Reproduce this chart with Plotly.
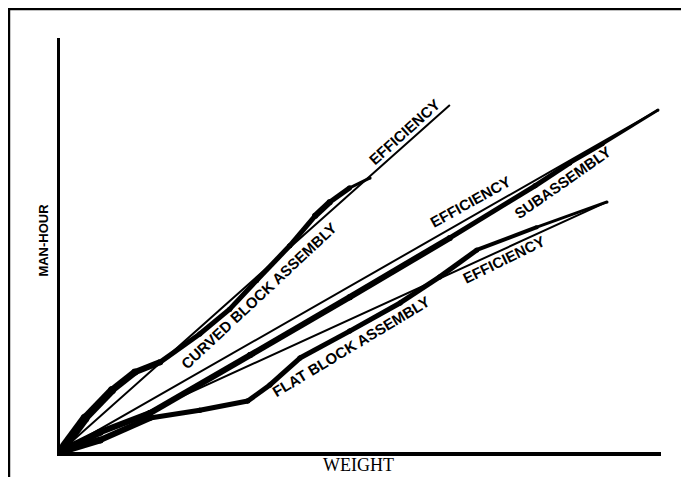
import plotly.graph_objs as go

# man-hour vs weight, arbitrary units (both axes 0-100)
curved_x = [0, 4.2, 8.7, 12.5, 16.7, 23.3, 28.3, 32.8, 38.3, 42.5, 45.0, 48.3, 51.7]
curved_y = [0, 8.2, 15.0, 19.3, 21.7, 28.5, 34.5, 41.5, 49.8, 57.0, 60.4, 63.8, 66.2]
curved_eff_x = [0, 65.0]
curved_eff_y = [0, 83.8]

sub_x = [0, 6.7, 15.0, 31.7, 48.3, 65.0, 79.2, 85.0, 90.5, 99.7]
sub_y = [0, 4.8, 9.4, 23.4, 37.4, 51.7, 64.3, 69.8, 74.4, 82.6]
sub_eff_x = [0, 99.7]
sub_eff_y = [0, 82.6]

flat_x = [0, 6.7, 15.0, 23.3, 31.3, 35.0, 40.0, 48.3, 56.7, 63.3, 69.5, 79.5, 91.2]
flat_y = [0, 2.9, 8.2, 10.1, 12.3, 16.2, 22.7, 29.2, 36.0, 42.3, 48.8, 54.3, 60.4]
flat_eff_x = [0, 91.2]
flat_eff_y = [0, 60.4]

labels = ["EFFICIENCY", "CURVED BLOCK ASSEMBLY", "EFFICIENCY",
          "SUBASSEMBLY", "FLAT BLOCK ASSEMBLY", "EFFICIENCY"]
label_x = [57.5, 33.2, 68.5, 83.8, 48.5, 74.0]
label_y = [77.3, 37.7, 60.4, 65.0, 25.4, 46.6]
label_angle = [-42, -43, -29, -35, -31, -26]

# pen width of each segment of the hand-drawn (tapered) curves
curved_w = [9, 8, 7, 6, 5, 5, 5, 5, 5, 6, 5, 3]
sub_w = [7, 6, 6, 6, 6, 5, 5, 4, 3]
flat_w = [7, 6, 5, 5, 5, 5, 5, 5, 5, 5, 4, 3]


def thin_line(xs, ys):
    return go.Scatter(x=xs, y=ys, mode='lines', showlegend=False, hoverinfo='skip',
                      line=dict(color='black', width=2))


def tapered(xs, ys, widths):
    out = []
    for i, w in enumerate(widths):
        out.append(go.Scatter(
            x=xs[i:i + 2], y=ys[i:i + 2],
            mode='lines+markers',
            showlegend=False,
            hoverinfo='skip',
            line=dict(color='black', width=w),
            marker=dict(color='black', size=w, line=dict(width=0))))
    return out


data = []
data.append(thin_line(curved_eff_x, curved_eff_y))
data.append(thin_line(sub_eff_x, sub_eff_y))
data.append(thin_line(flat_eff_x, flat_eff_y))
data += tapered(curved_x, curved_y, curved_w)
data += tapered(sub_x, sub_y, sub_w)
data += tapered(flat_x, flat_y, flat_w)

label_font = dict(family='Liberation Sans, Arial, sans-serif', size=15, color='black', weight='bold')
annotations = []
for t, x, y, a in zip(labels, label_x, label_y, label_angle):
    annotations.append(dict(x=x, y=y, xref='x', yref='y', text=t, textangle=a,
                            xanchor='center', yanchor='middle',
                            showarrow=False, font=label_font))

annotations.append(dict(x=-0.029, y=0.512, xref='paper', yref='paper', text='MAN-HOUR',
                        textangle=-90, showarrow=False, xanchor='center', yanchor='middle',
                        font=dict(family='Liberation Sans, Arial, sans-serif', size=13,
                                  color='black', weight='bold')))
annotations.append(dict(x=0.497, y=-0.0326, xref='paper', yref='paper', text='WEIGHT',
                        showarrow=False, xanchor='center', yanchor='middle',
                        font=dict(family='Liberation Serif, Times New Roman, serif', size=18,
                                  color='black')))

# page frame (top rule and left rule of the scanned page)
shapes = [
    dict(type='line', xref='paper', yref='paper', x0=-0.0865, x1=1.05, y0=1.0705, y1=1.0705,
         line=dict(color='black', width=3)),
    dict(type='line', xref='paper', yref='paper', x0=-0.0849, x1=-0.0849, y0=-0.07, y1=1.1,
         line=dict(color='black', width=2.5)),
]

# the page puts the figure 8px in from the top-left corner of the window
layout = go.Layout(
    width=681, height=469,
    margin=dict(l=52, r=28, t=30, b=25),
    paper_bgcolor='white',
    plot_bgcolor='white',
    showlegend=False,
    xaxis=dict(range=[0, 100.2], showgrid=False, zeroline=False, showticklabels=False,
               ticks='', showline=True, linecolor='black', linewidth=3.5),
    yaxis=dict(range=[0, 100], showgrid=False, zeroline=False, showticklabels=False,
               ticks='', showline=True, linecolor='black', linewidth=3),
    annotations=annotations,
    shapes=shapes,
)

fig = go.Figure(data=data, layout=layout)
fig.write_html("out.html")
